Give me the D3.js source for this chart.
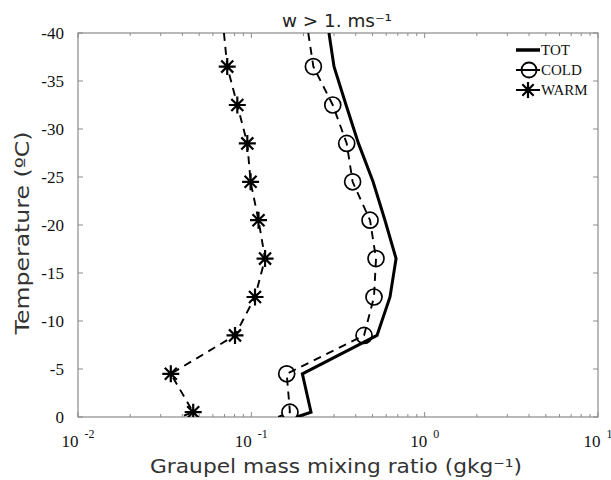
<!DOCTYPE html>
<html>
<head>
<meta charset="utf-8">
<script src="https://cdn.jsdelivr.net/npm/d3@7"></script>
<style>
  html, body { margin: 0; padding: 0; background: #fff; }
  svg { display: block; }
</style>
</head>
<body>
<svg id="chart" width="611" height="480"></svg>
<script>
// ---- Data ----
const markerTemps = [-36.5, -32.5, -28.5, -24.5, -20.5, -16.5, -12.5, -8.5, -4.5, -0.5];
const coldValues  = [0.228, 0.295, 0.355, 0.384, 0.484, 0.524, 0.510, 0.447, 0.160, 0.167];
const warmValues  = [0.0726, 0.083, 0.0948, 0.099, 0.110, 0.120, 0.105, 0.0805, 0.0343, 0.0462];
// line end points beyond the first/last marker (T = -40 and T = 0)
const endTemps    = [-40, 0];
const coldEnds    = [0.213, 0.143];
const warmEnds    = [0.0695, 0.0387];
const totTemps    = [-40, -36.5, -32.5, -28.5, -24.5, -20.5, -16.5, -12.5, -8.5, -4.5, -0.5, 0];
const totValues   = [0.2805, 0.300, 0.352, 0.415, 0.504, 0.590, 0.684, 0.631, 0.531, 0.197, 0.221, 0.183];
const yTickValues = [0, -5, -10, -15, -20, -25, -30, -35, -40];
const xMajorTicks = [0.01, 0.1, 1, 10];
const xTickExponents = ["-2", "-1", "0", "1"];
const seriesNames = ["TOT", "COLD", "WARM"];
const titleText = "w > 1. ms\u207B\u00B9";
const xTitle = "Graupel mass mixing ratio (gkg\u207B\u00B9)";
const yTitle = "Temperature (\u00BAC)";

// ---- Layout ----
const L = 78, R = 598, T = 33, B = 417;
const svg = d3.select("#chart");
const x = d3.scaleLog().domain([0.01, 10]).range([L, R]);
const y = d3.scaleLinear().domain([0, -40]).range([B, T]);

const serif = "'Liberation Serif', 'Times New Roman', serif";
const sans = "'DejaVu Sans', 'Open Sans', sans-serif";
const axisColor = "#8a8a8a";

const defs = svg.append("defs");
defs.append("clipPath").attr("id", "clip").append("rect")
  .attr("x", L).attr("y", T).attr("width", R - L).attr("height", B - T);

// ---- Box and ticks ----
const gAxis = svg.append("g");
gAxis.append("rect").attr("x", L).attr("y", T).attr("width", R - L).attr("height", B - T)
  .attr("fill", "none").attr("stroke", axisColor).attr("stroke-width", 1.2);

const allX = x.ticks();
allX.forEach(v => {
  const isMajor = xMajorTicks.some(m => Math.abs(m - v) < 1e-9);
  const len = isMajor ? 5 : 3;
  const px = x(v);
  gAxis.append("line").attr("x1", px).attr("x2", px).attr("y1", B).attr("y2", B - len)
    .attr("stroke", axisColor).attr("stroke-width", 1);
  gAxis.append("line").attr("x1", px).attr("x2", px).attr("y1", T).attr("y2", T + len)
    .attr("stroke", axisColor).attr("stroke-width", 1);
});
yTickValues.forEach(v => {
  const py = y(v);
  gAxis.append("line").attr("x1", L).attr("x2", L + 5).attr("y1", py).attr("y2", py)
    .attr("stroke", axisColor).attr("stroke-width", 1);
  gAxis.append("line").attr("x1", R).attr("x2", R - 5).attr("y1", py).attr("y2", py)
    .attr("stroke", axisColor).attr("stroke-width", 1);
});

// y tick labels
svg.append("g").selectAll("text").data(yTickValues).join("text")
  .attr("x", L - 14).attr("y", d => y(d) + 6)
  .attr("text-anchor", "end")
  .attr("font-family", serif).attr("font-size", 17).attr("fill", "#111")
  .text(d => d === 0 ? "0" : "-" + Math.abs(d));

// x tick labels with superscripts
const xl = svg.append("g").selectAll("text").data(xMajorTicks).join("text")
  .attr("x", d => x(d)).attr("y", 447)
  .attr("text-anchor", "middle")
  .attr("font-family", serif).attr("font-size", 17).attr("fill", "#111");
xl.append("tspan").text("10");
xl.append("tspan").attr("dx", 6).attr("dy", -9).attr("font-size", 12)
  .text((d, i) => xTickExponents[i]);

// ---- Lines ----
const line = d3.line().x(d => x(d[0])).y(d => y(d[1]));
const gPlot = svg.append("g").attr("clip-path", "url(#clip)");

const totPts = totTemps.map((t, i) => [totValues[i], t]);
const coldPts = [[coldEnds[0], endTemps[0]], ...markerTemps.map((t, i) => [coldValues[i], t]), [coldEnds[1], endTemps[1]]];
const warmPts = [[warmEnds[0], endTemps[0]], ...markerTemps.map((t, i) => [warmValues[i], t]), [warmEnds[1], endTemps[1]]];

gPlot.append("path").attr("d", line(warmPts)).attr("fill", "none")
  .attr("stroke", "#000").attr("stroke-width", 1.9).attr("stroke-dasharray", "8,6");
gPlot.append("path").attr("d", line(coldPts)).attr("fill", "none")
  .attr("stroke", "#000").attr("stroke-width", 1.9).attr("stroke-dasharray", "8,6");
gPlot.append("path").attr("d", line(totPts)).attr("fill", "none")
  .attr("stroke", "#000").attr("stroke-width", 3).attr("stroke-linejoin", "miter");

// markers
function star(g, cx, cy, r) {
  const d = [];
  for (let k = 0; k < 4; k++) {
    const a = k * Math.PI / 4;
    d.push(`M${cx - r * Math.cos(a)},${cy - r * Math.sin(a)}L${cx + r * Math.cos(a)},${cy + r * Math.sin(a)}`);
  }
  g.append("path").attr("d", d.join("")).attr("stroke", "#000").attr("stroke-width", 2.2).attr("fill", "none");
}
markerTemps.forEach((t, i) => {
  gPlot.append("circle").attr("cx", x(coldValues[i])).attr("cy", y(t)).attr("r", 8)
    .attr("fill", "none").attr("stroke", "#000").attr("stroke-width", 1.7);
  star(gPlot, x(warmValues[i]), y(t), 8.5);
});

// ---- Legend ----
const lg = svg.append("g");
const lx0 = 516, lx1 = 540, lcx = 527, ly = [50, 70, 90];
lg.append("line").attr("x1", lx0).attr("x2", lx1).attr("y1", ly[0]).attr("y2", ly[0])
  .attr("stroke", "#000").attr("stroke-width", 3.5);
lg.append("line").attr("x1", lx0).attr("x2", lx1).attr("y1", ly[1]).attr("y2", ly[1])
  .attr("stroke", "#000").attr("stroke-width", 2);
lg.append("circle").attr("cx", lcx + 2).attr("cy", ly[1]).attr("r", 7.5)
  .attr("fill", "none").attr("stroke", "#000").attr("stroke-width", 1.8);
lg.append("line").attr("x1", lx0).attr("x2", lx1).attr("y1", ly[2]).attr("y2", ly[2])
  .attr("stroke", "#000").attr("stroke-width", 2);
star(lg, lcx + 1, ly[2], 8);
lg.selectAll("text").data(seriesNames).join("text")
  .attr("x", 541).attr("y", (d, i) => ly[i] + 5)
  .attr("font-family", serif).attr("font-size", 15).attr("fill", "#111")
  .text(d => d);

// ---- Titles ----
svg.append("text").attr("x", 337).attr("y", 27).attr("text-anchor", "middle")
  .attr("font-family", sans).attr("font-size", 17).attr("fill", "#222")
  .attr("textLength", 110).attr("lengthAdjust", "spacingAndGlyphs").text(titleText);
svg.append("text").attr("x", 336).attr("y", 473).attr("text-anchor", "middle")
  .attr("font-family", sans).attr("font-size", 19).attr("fill", "#333")
  .attr("textLength", 372).attr("lengthAdjust", "spacingAndGlyphs").text(xTitle);
svg.append("text").attr("transform", `translate(29,233) rotate(-90)`)
  .attr("text-anchor", "middle")
  .attr("font-family", sans).attr("font-size", 19).attr("fill", "#333")
  .attr("textLength", 203).attr("lengthAdjust", "spacingAndGlyphs").text(yTitle);
</script>
</body>
</html>
